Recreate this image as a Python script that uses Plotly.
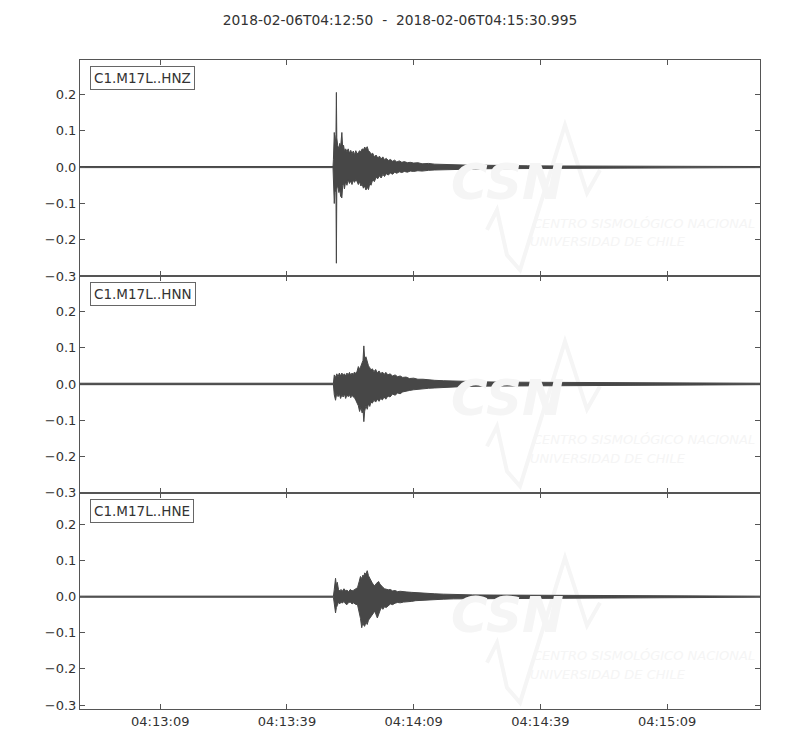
import pandas as pd
import plotly.graph_objects as go
from plotly.subplots import make_subplots

# ---------------- data ----------------
start_time = "2018-02-06 04:12:50"
duration_s = 160.995
title_text = "2018-02-06T04:12:50  -  2018-02-06T04:15:30.995"
channel_labels = ["C1.M17L..HNZ", "C1.M17L..HNN", "C1.M17L..HNE"]

tick_times = ["2018-02-06 04:13:09", "2018-02-06 04:13:39", "2018-02-06 04:14:09",
              "2018-02-06 04:14:39", "2018-02-06 04:15:09"]
tick_texts = ["04:13:09", "04:13:39", "04:14:09", "04:14:39", "04:15:09"]
y_ticks = [-0.3, -0.2, -0.1, 0.0, 0.1, 0.2]
y_ranges = [[-0.300, 0.294], [-0.300, 0.297], [-0.311, 0.288]]

# envelopes: seconds after start, upper / lower amplitude
t_z = [0, 59.9, 60.0, 60.2, 60.4, 60.6, 60.7, 60.8, 61.0, 61.3,
       61.5, 61.7, 62.0, 62.2, 62.4, 62.6, 62.9, 63.2, 63.5, 63.8,
       64.1, 64.4, 64.7, 65.0, 65.3, 65.6, 65.9, 66.2, 66.5, 66.8,
       67.1, 67.4, 67.7, 68.0, 68.3, 68.6, 68.9, 69.3, 69.7, 70.1,
       70.5, 70.9, 71.3, 71.7, 72.1, 72.5, 73.0, 73.5, 74.0, 74.5,
       75.0, 75.6, 76.2, 76.8, 77.5, 78.2, 79.0, 80.0, 81.0, 82.5,
       84.0, 86.0, 88.0, 90.0, 93.0, 96.0, 100.0, 106.0, 113.0, 122.0,
       135.0, 150.0, 160.995]
up_z = [.0015, .0015, .02, .095, .06, .09, .205, .08, .06, .05,
        .065, .055, .095, .05, .06, .045, .05, .042, .05, .038,
        .046, .036, .044, .034, .045, .036, .04, .045, .042, .05,
        .047, .055, .05, .056, .045, .042, .035, .038, .028, .033,
        .025, .03, .022, .028, .02, .024, .018, .021, .016, .019,
        .014, .017, .013, .015, .012, .013, .011, .012, .009, .01,
        .008, .007, .007, .006, .005, .005, .004, .0035, .003, .0025,
        .002, .0018, .0015]
lo_z = [-.0015, -.0015, -.02, -.10, -.06, -.07, -.264, -.06, -.05, -.07,
        -.06, -.08, -.085, -.05, -.045, -.06, -.04, -.05, -.035, -.045,
        -.038, -.048, -.036, -.042, -.035, -.04, -.048, -.04, -.052, -.047,
        -.058, -.052, -.063, -.055, -.062, -.045, -.05, -.035, -.04, -.028,
        -.032, -.024, -.03, -.02, -.026, -.018, -.022, -.016, -.02, -.014,
        -.017, -.013, -.015, -.012, -.014, -.011, -.012, -.01, -.011, -.009,
        -.008, -.008, -.006, -.006, -.0055, -.0045, -.004, -.0035, -.003, -.0025,
        -.002, -.0018, -.0015]

t_n = [0, 60.0, 60.2, 60.5, 60.8, 61.1, 61.4, 61.7, 62.0, 62.3,
       62.6, 62.9, 63.2, 63.5, 63.8, 64.1, 64.4, 64.7, 65.0, 65.3,
       65.6, 65.9, 66.2, 66.5, 66.8, 67.0, 67.2, 67.4, 67.7, 68.0,
       68.3, 68.6, 68.9, 69.2, 69.6, 70.0, 70.4, 70.8, 71.2, 71.6,
       72.0, 72.4, 72.9, 73.4, 74.0, 74.6, 75.2, 75.8, 76.4, 77.2,
       78.0, 79.0, 80.0, 81.2, 82.5, 84.0, 86.0, 88.0, 91.0, 95.0,
       100.0, 106.0, 112.0, 120.0, 130.0, 145.0, 160.995]
up_n = [.002, .002, .025, .018, .028, .02, .03, .022, .03, .024,
        .028, .022, .03, .025, .032, .024, .03, .026, .033, .028,
        .035, .048, .04, .05, .06, .065, .105, .07, .075, .06,
        .05, .045, .038, .042, .034, .04, .03, .036, .028, .033,
        .026, .032, .025, .028, .022, .025, .02, .022, .018, .019,
        .015, .016, .013, .013, .011, .01, .009, .008, .007, .006,
        .005, .0045, .004, .0035, .003, .0025, .002]
lo_n = [-.002, -.002, -.03, -.045, -.025, -.035, -.028, -.04, -.03, -.036,
        -.028, -.04, -.03, -.035, -.03, -.038, -.03, -.036, -.038, -.045,
        -.05, -.06, -.076, -.065, -.08, -.07, -.104, -.075, -.06, -.07,
        -.055, -.062, -.05, -.053, -.045, -.05, -.042, -.048, -.04, -.044,
        -.036, -.042, -.033, -.036, -.028, -.031, -.025, -.027, -.022, -.02,
        -.018, -.016, -.015, -.013, -.012, -.011, -.009, -.008, -.007, -.006,
        -.005, -.0045, -.004, -.0035, -.003, -.0025, -.002]

t_e = [0, 60.0, 60.2, 60.5, 60.7, 60.9, 61.2, 61.5, 61.8, 62.1,
       62.5, 62.9, 63.2, 63.6, 64.0, 64.4, 64.8, 65.2, 65.7, 66.1,
       66.4, 66.7, 67.0, 67.2, 67.4, 67.7, 68.0, 68.3, 68.6, 68.9,
       69.2, 69.5, 69.8, 70.1, 70.4, 70.7, 71.0, 71.3, 71.7, 72.1,
       72.5, 73.0, 73.5, 74.0, 74.6, 75.2, 75.8, 76.6, 77.4, 78.5,
       79.5, 80.6, 82.0, 84.0, 86.0, 88.5, 93.0, 98.0, 105.0, 113.0,
       122.0, 135.0, 150.0, 160.995]
up_e = [.0015, .0015, .02, .051, .03, .04, .02, .016, .02, .015,
        .022, .016, .018, .014, .02, .016, .018, .022, .025, .042,
        .056, .05, .06, .055, .066, .062, .072, .058, .05, .042,
        .038, .033, .03, .036, .04, .042, .035, .03, .026, .022,
        .02, .019, .02, .016, .017, .014, .015, .013, .013, .012,
        .011, .01, .009, .008, .007, .006, .005, .0045, .004, .0035,
        .003, .0025, .002, .0015]
lo_e = [-.0015, -.0015, -.02, -.045, -.03, -.025, -.015, -.02, -.014, -.018,
        -.013, -.02, -.022, -.016, -.015, -.02, -.017, -.021, -.022, -.04,
        -.06, -.086, -.07, -.08, -.082, -.07, -.077, -.065, -.06, -.052,
        -.05, -.045, -.04, -.05, -.059, -.055, -.04, -.03, -.035, -.028,
        -.03, -.024, -.02, -.022, -.018, -.016, -.017, -.015, -.013, -.013,
        -.011, -.01, -.009, -.008, -.007, -.006, -.005, -.0045, -.004, -.0035,
        -.003, -.0025, -.002, -.0015]

traces = [(t_z, up_z, lo_z), (t_n, up_n, lo_n), (t_e, up_e, lo_e)]

# ---------------- figure ----------------
TRACE_COLOR = "#474747"
AXIS_COLOR = "#555555"
TEXT_COLOR = "#333333"
WM_COLOR = "#f5f5f5"
FONT = "DejaVu Sans"

t0 = pd.Timestamp(start_time)
t_end = t0 + pd.to_timedelta(duration_s, unit="s")

fig = make_subplots(rows=3, cols=1, shared_xaxes=True, vertical_spacing=0)

for i, (tt, up, lo) in enumerate(traces):
    n = min(len(tt), len(up), len(lo))
    tt, up, lo = tt[:n], up[:n], lo[:n]
    times = [t0 + pd.to_timedelta(v, unit="s") for v in tt]
    xs = times + times[::-1]
    ys = up + lo[::-1]
    fig.add_trace(go.Scatter(x=xs, y=ys, mode="lines", fill="toself",
                             fillcolor=TRACE_COLOR,
                             line=dict(color=TRACE_COLOR, width=1),
                             hoverinfo="skip", showlegend=False),
                  row=i + 1, col=1)

for i in range(3):
    r = i + 1
    fig.update_yaxes(range=y_ranges[i], tickvals=y_ticks, tickformat=".1f",
                     ticks="inside", ticklen=5, tickcolor=AXIS_COLOR,
                     showline=True, linecolor=AXIS_COLOR, linewidth=1, mirror="allticks",
                     showgrid=False, zeroline=False,
                     tickfont=dict(family=FONT, size=13, color=TEXT_COLOR),
                     row=r, col=1)
    fig.update_xaxes(type="date", range=[t0, t_end], tickvals=tick_times, ticktext=tick_texts,
                     ticks="inside", ticklen=5, tickcolor=AXIS_COLOR,
                     showline=True, linecolor=AXIS_COLOR, linewidth=1, mirror="allticks",
                     showgrid=False, zeroline=False,
                     showticklabels=(r == 3),
                     tickfont=dict(family=FONT, size=13, color=TEXT_COLOR),
                     row=r, col=1)

annotations = []
shapes = []
panel_h = 1.0 / 3
PLOT_W, PLOT_H = 680.0, 649.0
for i, lab in enumerate(channel_labels):
    suf = "" if i == 0 else str(i + 1)
    annotations.append(dict(text=lab, xref=f"x{suf} domain", yref=f"y{suf} domain",
                            x=0.015, y=0.972, xanchor="left", yanchor="top", showarrow=False,
                            font=dict(family=FONT, size=13.5, color=TEXT_COLOR),
                            bgcolor="white", bordercolor="#666666", borderwidth=1, borderpad=3))
    base = 1 - i * panel_h

    def py(px_from_top, base=base):
        return base - px_from_top / PLOT_H

    def pxx(px):
        return (px - 80) / PLOT_W

    annotations.append(dict(text="<b><i>CSN</i></b>", xref="paper", yref="paper",
                            x=pxx(507), y=py(122), xanchor="center", yanchor="middle",
                            showarrow=False, font=dict(family=FONT, size=50, color=WM_COLOR)))
    annotations.append(dict(text="<i>CENTRO SISMOLÓGICO NACIONAL</i>", xref="paper", yref="paper",
                            x=pxx(531), y=py(163), xanchor="left", yanchor="middle",
                            showarrow=False, font=dict(family=FONT, size=13, color=WM_COLOR)))
    annotations.append(dict(text="<i>UNIVERSIDAD DE CHILE</i>", xref="paper", yref="paper",
                            x=pxx(528), y=py(182), xanchor="left", yanchor="middle",
                            showarrow=False, font=dict(family=FONT, size=13, color=WM_COLOR)))
    pts = [(487, 170), (497, 150), (507, 195), (520, 210), (565, 65), (587, 133), (600, 110)]
    path = "M " + " L ".join(f"{pxx(a):.4f},{py(b):.4f}" for a, b in pts)
    shapes.append(dict(type="path", path=path, xref="paper", yref="paper",
                       line=dict(color=WM_COLOR, width=4), layer="below"))

fig.update_layout(
    width=800, height=750,
    margin=dict(l=72, r=48, t=52, b=49),
    paper_bgcolor="white", plot_bgcolor="white",
    title=dict(text=title_text, x=392 / 800, xref="container", xanchor="center",
               y=1 - 12 / 750, yref="container", yanchor="middle",
               font=dict(family=FONT, size=13.8, color=TEXT_COLOR)),
    annotations=annotations, shapes=shapes,
    showlegend=False,
)

fig.write_html("out.html")
